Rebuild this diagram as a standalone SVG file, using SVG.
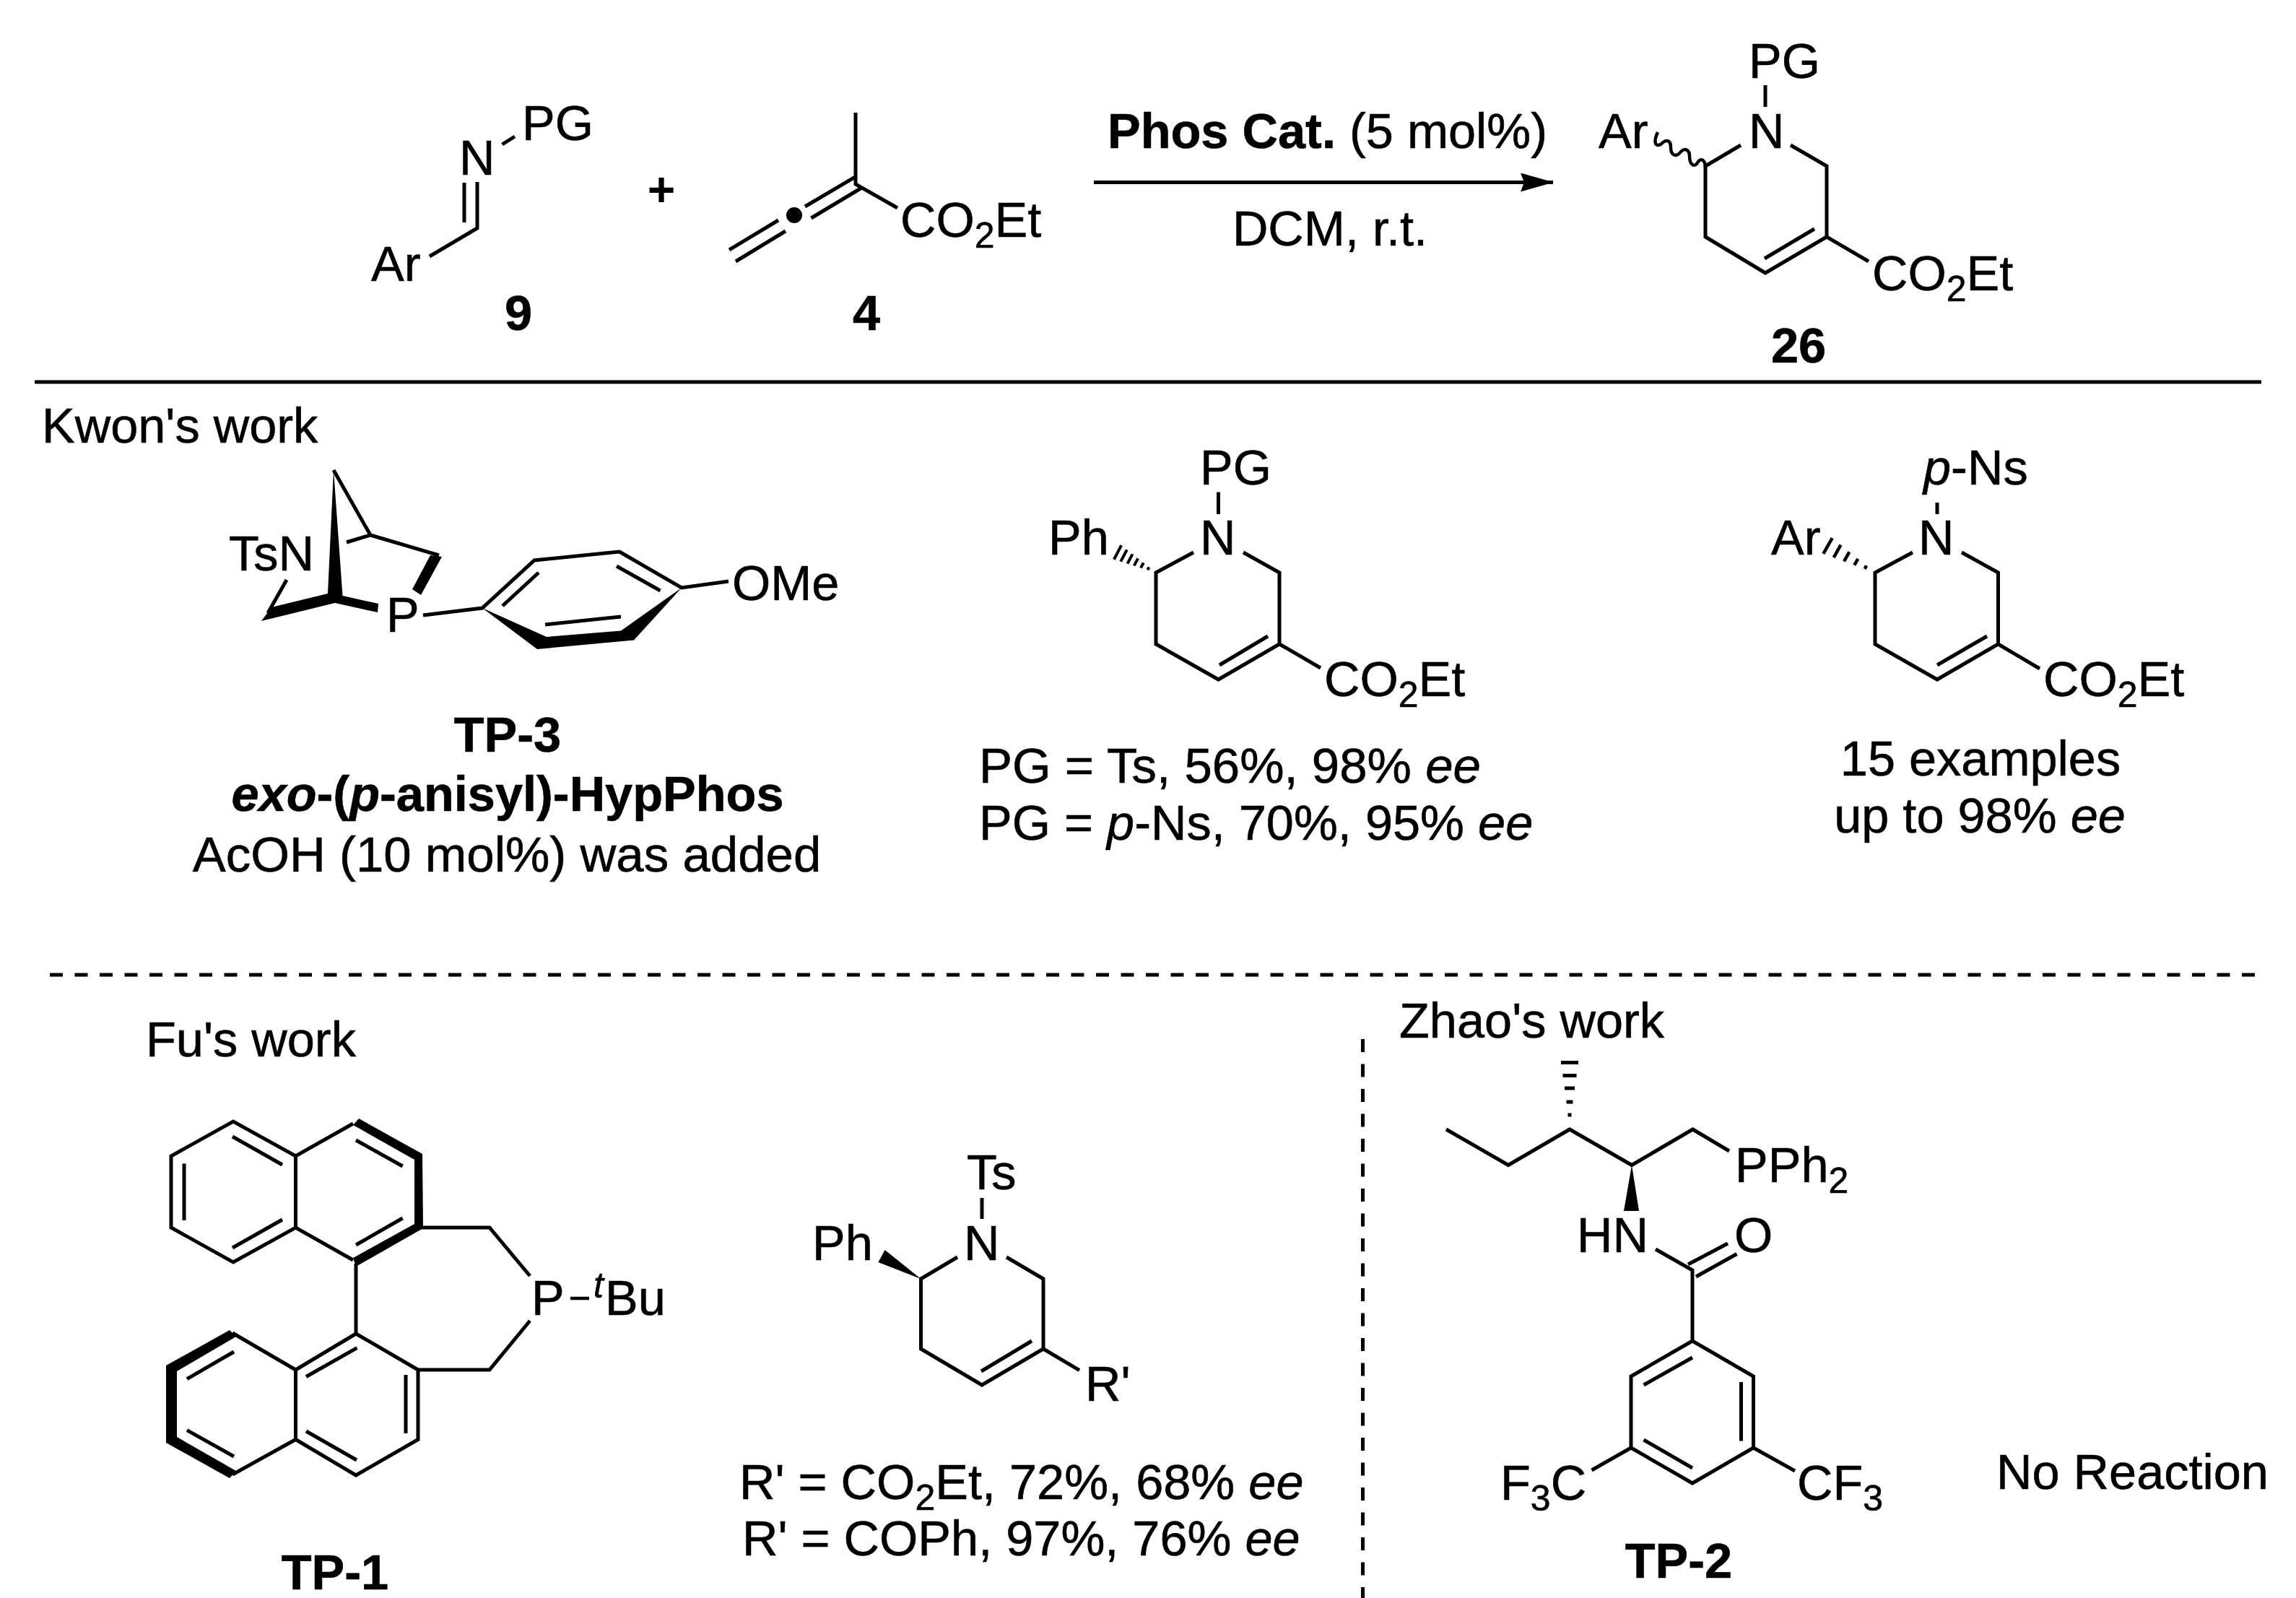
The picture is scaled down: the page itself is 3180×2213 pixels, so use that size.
<svg xmlns="http://www.w3.org/2000/svg" width="3180" height="2213" viewBox="0 0 3180 2213">
<style>
text{font-family:"Liberation Sans",Arial,sans-serif;font-size:68.5px;fill:#000;stroke:#000;stroke-width:.6}
.bf{font-weight:bold}
.i{font-style:italic}
.s{font-size:50px}
.bd{fill:none;stroke:#000;stroke-width:5;stroke-linejoin:miter;stroke-linecap:butt}
.h{fill:none;stroke:#000;stroke-width:4.5}
.f{fill:#000;stroke:none}
.rule{fill:none;stroke:#000;stroke-width:5}
.dash{fill:none;stroke:#000;stroke-width:5;stroke-dasharray:18 16.5}
</style>
<defs>
<marker id="ah" markerUnits="userSpaceOnUse" markerWidth="46" markerHeight="26" viewBox="0 0 46 26" refX="45" refY="13" orient="auto"><path d="M0 0L46 13L0 26L5 13Z" fill="#000"/></marker>
</defs>
<rect width="3180" height="2213" fill="#fff"/>
<g id="connectors">
<path class="rule" d="M1515 252.5H2151" marker-end="url(#ah)"/>
<path class="rule" d="M48 529H3132"/>
<path class="dash" d="M69 1350H3123"/>
<path class="dash" d="M1887.5 1439V2213"/>
</g>
<g id="imine-9">
<path class="bd" d="M695.5 200L713 189M661 252V316L595 355M643 253V308"/>
<text x="636" y="242">N</text><text x="723" y="194">PG</text><text x="514" y="389">Ar</text>
<text class="bf" x="718" y="457" text-anchor="middle">9</text>
</g>
<g id="plus"><text class="bf" x="916" y="285" text-anchor="middle" style="font-size:66px;stroke:none">+</text></g>
<g id="allene-4">
<path class="bd" d="M1185 156V255L1243 288M1184.5 245L1115 286M1193.6 260L1123.5 302M1078 305L1010 346M1088 320L1019 362"/>
<circle class="f" cx="1100" cy="298" r="11"/>
<text x="1247" y="328">CO<tspan class="s" dy="15">2</tspan><tspan dy="-15">Et</tspan></text>
<text class="bf" x="1200" y="457" text-anchor="middle">4</text>
</g>
<g id="conditions">
<text x="1534" y="205"><tspan class="bf">Phos Cat.</tspan> (5 mol%)</text>
<text x="1842" y="340" text-anchor="middle">DCM, r.t.</text>
</g>
<g id="product-26">
<path class="bd" d="M2445 118V148M2411 201L2362 230V328L2445 378L2530 328V230L2480 201M2513 317L2444 358M2530 328L2588 362"/>
<path class="h" d="M2296 183C2290 196 2292 204 2300 200C2308 192 2314 194 2314 204C2314 216 2322 218 2328 210C2334 204 2340 208 2340 216C2340 230 2348 232 2352 224C2356 218 2362 222 2362 232"/>
<text x="2422" y="108">PG</text><text x="2422" y="205">N</text><text x="2214" y="205">Ar</text>
<text x="2593" y="402">CO<tspan class="s" dy="15">2</tspan><tspan dy="-15">Et</tspan></text>
<text class="bf" x="2491" y="502" text-anchor="middle">26</text>
</g>
<g id="kwon-label"><text x="58" y="613">Kwon's work</text></g>
<g id="tp-3">
<path class="bd" d="M462 651L513 741L480 751M513 741L608 769M397 803L371 849M586 852L668 842L740 776L858 764L944 814L1009 805M746 793L696 839M854 784L914.5 818M755 865L860 854"/>
<path class="f" d="M462 651L474.5 825L524 836L523 848L464 835L362 860L376 841L454 822Z"/>
<path class="f" d="M596 769L612 771L583 824L571 816Z"/>
<path class="f" d="M668 842L757 882L860 873.5L944 814L878 886.5L744 899Z"/>
<text x="317" y="790">TsN</text><text x="535" y="875">P</text><text x="1014" y="831">OMe</text>
<text class="bf" x="703" y="1041" text-anchor="middle">TP-3</text>
<text class="bf" x="703" y="1123" text-anchor="middle"><tspan class="i">exo</tspan>-(<tspan class="i">p</tspan>-anisyl)-HypPhos</text>
<text x="702" y="1207" text-anchor="middle" style="font-size:69px">AcOH (10 mol%) was added</text>
</g>
<g id="product-ph-hash">
<path class="bd" d="M1687.5 681.5V712M1653 765L1601 793V892L1687.5 941L1772 892V793L1722 765M1756 881L1689 921M1772 892L1829 925"/>
<path class="h" style="stroke-width:4" d="M1553.1 755.3L1542.9 774.7M1560.8 761.4L1552.2 777.6M1568.5 767.4L1561.5 780.6M1576.1 773.4L1570.7 783.4M1583.8 779.4L1580 786.4M1591.4 785.5L1589.4 789.3"/>
<text x="1662" y="671">PG</text><text x="1662" y="768">N</text><text x="1452" y="768">Ph</text>
<text x="1834" y="964">CO<tspan class="s" dy="15">2</tspan><tspan dy="-15">Et</tspan></text>
<text x="1356" y="1084" style="font-size:69px">PG = Ts, 56%, 98% <tspan class="i">ee</tspan></text>
<text x="1356" y="1163">PG = <tspan class="i">p</tspan>-Ns, 70%, 95% <tspan class="i">ee</tspan></text>
</g>
<g id="product-ar-hash">
<path class="bd" d="M2683 696V712M2649 765L2597 793V892L2683 941L2767.5 892V793L2717 765M2752 881L2683 921M2767.5 892L2825 926"/>
<path class="h" d="M2537.7 745.1L2525.3 766.9M2549.5 754.7L2539.7 772.1M2561.4 764.3L2554 777.3M2573.3 773.8L2568.3 782.6M2585.1 783.4L2582.7 787.8"/>
<text x="2664" y="671"><tspan class="i">p</tspan>-Ns</text><text x="2657" y="768">N</text><text x="2453" y="768">Ar</text>
<text x="2830" y="964">CO<tspan class="s" dy="15">2</tspan><tspan dy="-15">Et</tspan></text>
<text x="2743" y="1074" text-anchor="middle">15 examples</text>
<text x="2742" y="1153" text-anchor="middle">up to 98% <tspan class="i">ee</tspan></text>
</g>
<g id="fu-label"><text x="202" y="1463">Fu's work</text></g>
<g id="tp-1">
<path class="bd" d="M489 1556L409.5 1601L323 1553L237 1601V1700L323 1748L409.5 1700L489 1745M409.5 1601V1700M322 1574L391 1613M255 1611.5V1690M322 1728L391 1689M493 1579L557.6 1615M493 1724L557.6 1687M493 1750V1847M582 1700H678L734 1767M579 1897H678L734 1829"/>
<path class="f" d="M497 1549L585 1598L586 1701L493 1754L489 1742L574 1695L574 1606L489 1558Z"/>
<path class="bd" d="M322 1846L409.5 1897L493 1847L579 1897V1993.5L493 2043L409.5 1993.5L322 2042M409.5 1897V1993.5M424 1906.5L494.4 1866.6M562 1904V1985M424 1982L494 2022M259 1909.6L324 1872M259 1980.6L324 2017"/>
<path class="f" d="M318 1842L230 1891V1998L318 2047L327 2037L245 1990V1899L327 1851Z"/>
<path class="h" d="M790 1798H816"/>
<text x="736" y="1821">P</text><text class="i s" x="822" y="1797">t</text><text x="838" y="1821">Bu</text>
<text class="bf" x="464" y="2201" text-anchor="middle">TP-1</text>
</g>
<g id="product-ph-wedge">
<path class="bd" d="M1360 1659V1688M1326 1741L1275.5 1771V1868L1360 1918L1445 1868V1771L1394 1741M1429 1857L1359 1899M1445 1868L1495 1897.6"/>
<path class="f" d="M1275.5 1771L1225.6 1731L1216.4 1748Z"/>
<text x="1339" y="1647">Ts</text><text x="1335" y="1745">N</text><text x="1125" y="1745">Ph</text><text x="1503" y="1940">R'</text>
<text x="1024" y="2076">R' = CO<tspan class="s" dy="15">2</tspan><tspan dy="-15">Et, 72%, 68% </tspan><tspan class="i">ee</tspan></text>
<text x="1028" y="2154">R' = COPh, 97%, 76% <tspan class="i">ee</tspan></text>
</g>
<g id="zhao-label"><text x="1938" y="1437">Zhao's work</text></g>
<g id="tp-2">
<path class="bd" d="M2003 1564L2089 1613.5L2174 1564L2260 1613.5L2344.5 1564L2395 1594M2293 1730L2344 1759V1857L2428.5 1906V2005L2344 2054L2259 2005V1906L2344 1857M2338 1751L2393 1722M2349 1768L2405.5 1736.5M2344 1880L2276.6 1918M2411.5 1914V1995.5M2276.6 1994L2344 2033M2428.5 2005L2486 2037M2259 2005L2204.5 2036"/>
<path class="f" d="M2260 1613.5L2270 1677H2249Z"/>
<path class="bd" d="M2162 1471.5H2186M2164.5 1489.5H2183.5M2167 1507H2181M2169.5 1526H2178.5M2171.5 1544H2176.5"/>
<text x="2403" y="1637">PPh<tspan class="s" dy="15">2</tspan></text>
<text x="2184" y="1734">HN</text><text x="2402" y="1734">O</text>
<text x="2078" y="2077">F<tspan class="s" dy="15">3</tspan><tspan dy="-15">C</tspan></text>
<text x="2489" y="2077">CF<tspan class="s" dy="15">3</tspan></text>
<text class="bf" x="2325" y="2185" text-anchor="middle">TP-2</text>
</g>
<g id="no-reaction"><text x="2765" y="2062">No Reaction</text></g>
</svg>
